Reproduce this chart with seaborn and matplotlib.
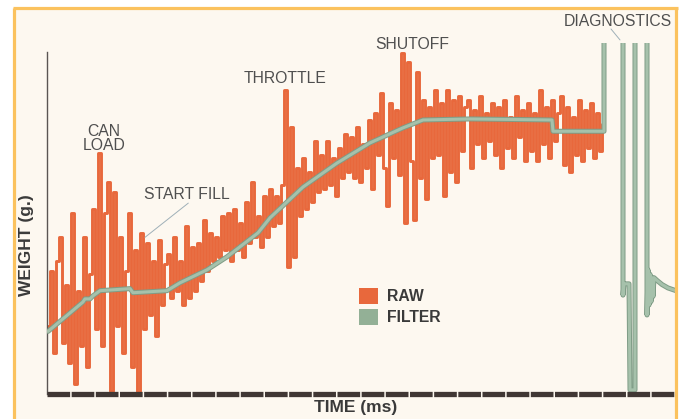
"""Raw vs filtered load-cell weight trace during a can fill cycle."""
import numpy as np
import matplotlib
matplotlib.use("Agg")
import matplotlib.pyplot as plt
import matplotlib.patheffects as pe
from matplotlib.lines import Line2D
from matplotlib.patches import Patch, Rectangle
import seaborn as sns

# ── Data ──────────────────────────────────────────────────────────────────────
# time in ms, one raw sample every 3 ms, weight in grams (1 g per axis tick)
SAMPLE_STEP_MS = 3
raw_weight = [
    2.0, 3.6, 1.2, 3.9, 4.6, 1.5, 3.2, 0.9, 5.3, 0.3,
    3.0, 1.4, 4.6, 0.8, 3.5, 5.4, 1.9, 7.05, 1.4, 5.3,
    6.2, 0.1, 5.9, 2.0, 4.6, 1.2, 3.6, 5.3, 0.8, 4.2,
    0.05, 4.7, 1.9, 4.4, 2.3, 3.9, 1.7, 4.5, 2.6, 3.8,
    4.1, 2.8, 4.6, 3.0, 3.9, 2.6, 4.9, 2.8, 4.3, 3.0,
    4.4, 3.3, 5.1, 3.6, 4.7, 3.9, 4.6, 4.0, 5.2, 4.2,
    5.3, 3.9, 5.4, 4.2, 5.0, 4.0, 5.6, 4.4, 6.2, 4.6,
    5.2, 4.3, 5.8, 4.6, 6.0, 4.9, 5.8, 5.0, 6.1, 8.9,
    3.7, 7.8, 4.0, 6.6, 5.2, 6.9, 5.4, 6.5, 5.6, 7.4,
    5.9, 7.0, 6.0, 7.4, 6.1, 6.9, 5.8, 7.2, 6.3, 7.6,
    6.5, 7.5, 6.3, 7.8, 6.2, 7.3, 6.6, 8.0, 6.0, 8.2,
    7.0, 8.8, 6.6, 5.5, 8.5, 6.9, 8.3, 6.4, 9.97, 5.0,
    9.7, 6.8, 5.1, 9.4, 6.3, 8.6, 5.7, 8.4, 6.9, 8.9,
    7.0, 8.5, 5.8, 8.9, 6.5, 8.6, 6.2, 8.7, 7.1, 8.4,
    8.6, 6.6, 8.3, 7.3, 8.7, 6.9, 8.2, 7.4, 8.5, 7.0,
    8.4, 6.6, 8.6, 7.2, 8.1, 6.9, 8.7, 7.5, 8.3, 6.8,
    8.5, 7.1, 8.2, 6.8, 8.9, 7.3, 8.4, 6.9, 8.6, 7.4,
    8.2, 8.7, 6.7, 8.4, 6.5, 8.1, 7.0, 8.6, 6.8, 8.3,
    7.2, 8.5, 6.9, 8.2, 7.1, 7.9,
]
raw_time = np.arange(len(raw_weight)) * SAMPLE_STEP_MS

# filter output, including the diagnostics excursions at the end
filter_time = [
    0, 35, 37, 42, 45, 52, 82, 85, 119, 132, 159, 179, 210, 222, 255, 289,
    322, 355, 375, 422, 504, 505, 556,
    556, 575, 575, 576, 581, 582, 587, 587, 599, 599,
    600, 601, 602, 603, 604, 605, 606, 609, 614, 620, 628,
]
filter_weight = [
    1.83, 2.69, 2.78, 2.78, 2.87, 3.02, 3.08, 2.96, 3.02, 3.25, 3.63, 4.01,
    4.71, 5.15, 6.05, 6.75, 7.34, 7.78, 8.01, 8.04, 8.01, 7.68, 7.68,
    11.5, 11.5, 2.89, 3.22, 3.22, 0.12, 0.12, 11.5, 11.5, 2.31,
    3.63, 2.6, 3.5, 2.7, 3.4, 2.85, 3.4, 3.32, 3.2, 3.1, 3.02,
]

# event labels: (text, time, weight)
events = [
    ("CAN\nLOAD", 56, 7.46),
    ("START FILL", 139, 5.82),
    ("THROTTLE", 237, 9.21),
    ("SHUTOFF", 364, 10.23),
    ("DIAGNOSTICS", 570, 10.88),
]
weight_ticks = list(range(1, 11))

# ── Style ─────────────────────────────────────────────────────────────────────
RAW_COLOR = "#e8683c"
FILTER_COLOR = "#a6c1ab"
FILTER_EDGE = "#7f9c86"
PAPER = "#fdf8f0"
BORDER = "#fbc25e"
INK = "#3a3a3a"
LABEL_INK = "#4f4f4f"
W, H = 683, 419

sns.set_style("white")
plt.rcParams["font.family"] = ["Liberation Sans", "DejaVu Sans"]
plt.rcParams["lines.scale_dashes"] = False

fig = plt.figure(figsize=(W / 100, H / 100), dpi=100, facecolor="white")

# cream page with the orange frame
fig.add_artist(Rectangle((14 / W, 0), 662 / W, 1 - 8 / H,
                         transform=fig.transFigure, facecolor=PAPER,
                         edgecolor="none", zorder=-10))
frame_kw = dict(transform=fig.transFigure, color=BORDER, linewidth=2.3,
                solid_capstyle="butt")
fig.add_artist(Line2D([13 / W, 677.5 / W], [1 - 8 / H, 1 - 8 / H], **frame_kw))
fig.add_artist(Line2D([14 / W, 14 / W], [0, 1 - 8 / H], **frame_kw))
fig.add_artist(Line2D([676 / W, 676 / W], [0, 1 - 8 / H], **frame_kw))

ax = fig.add_axes([47 / W, 1 - 394 / H, (676 - 47) / W, (394 - 43) / H])
ax.set_facecolor("none")

# ── Traces ────────────────────────────────────────────────────────────────────
# steps drawn thick so the fast oscillation reads as a solid band of bars
sns.lineplot(x=raw_time, y=raw_weight, ax=ax, color=RAW_COLOR,
             linewidth=2.1, drawstyle="steps-mid", zorder=2)
sns.lineplot(x=filter_time, y=filter_weight, ax=ax, sort=False,
             estimator=None, color=FILTER_COLOR, linewidth=2.2, zorder=3,
             path_effects=[pe.Stroke(linewidth=3.6, foreground=FILTER_EDGE),
                           pe.Normal()])

ax.set_xlim(-1, 628)
ax.set_ylim(0, 10.26)

# ── Axes ──────────────────────────────────────────────────────────────────────
for side in ("top", "right", "bottom"):
    ax.spines[side].set_visible(False)
ax.spines["left"].set_bounds(0, 10)
ax.spines["left"].set_color("#5a5553")
ax.spines["left"].set_linewidth(1.0)
ax.set_xticks([])
ax.set_yticks(weight_ticks)
ax.set_yticklabels([])
ax.tick_params(axis="y", direction="inout", length=6, width=1.0,
               color="#5a5553")
ax.set_xlabel("")
ax.set_ylabel("")

# time axis drawn as a dashed strip
ax.plot([0, 1], [0, 0], transform=ax.transAxes, clip_on=False,
        color="#403734", linewidth=3.8, dashes=(16.3, 1.1),
        dash_capstyle="butt", zorder=4)

# ── Labels ────────────────────────────────────────────────────────────────────
for text, t, w in events:
    ax.text(t, w, text, ha="center", va="center", fontsize=11.3,
            color=LABEL_INK, linespacing=0.95, clip_on=False)
ax.plot([140.3, 97], [5.58, 4.58], color="#9fb0b8", linewidth=0.7,
        zorder=4)
ax.plot([563, 572], [10.67, 10.35], color="#9fb0b8", linewidth=0.7,
        clip_on=False, zorder=4)

fig.text(27 / W, 1 - 245 / H, "WEIGHT (g.)", rotation=90, ha="center",
         va="center", fontsize=12.5, fontweight="bold", color=INK)
fig.text(356 / W, 1 - 407 / H, "TIME (ms)", ha="center", va="center",
         fontsize=12.5, fontweight="bold", color=INK)

legend_handles = [
    Patch(facecolor=RAW_COLOR, edgecolor="none", label="RAW"),
    Patch(facecolor="#93b096", edgecolor="none", label="FILTER"),
]
leg = ax.legend(handles=legend_handles, loc="upper left",
                bbox_to_anchor=(359 / W, 1 - 288 / H),
                bbox_transform=fig.transFigure, frameon=False,
                fontsize=11.3, handlelength=1.2, handleheight=1.2,
                handletextpad=0.6, labelspacing=0.3, borderpad=0,
                borderaxespad=0)
for txt in leg.get_texts():
    txt.set_fontweight("bold")
    txt.set_color(INK)

fig.savefig("out.png", dpi=100, facecolor=fig.get_facecolor())
